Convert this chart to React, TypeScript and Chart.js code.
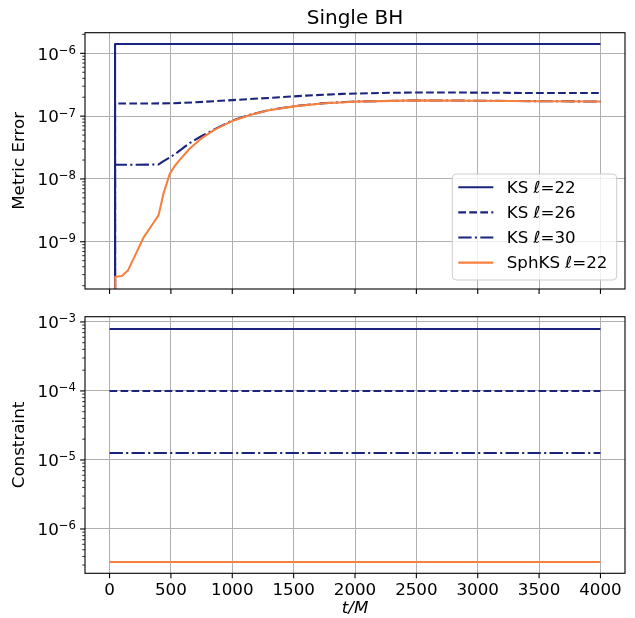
import React, { useEffect, useRef } from "react";
import { Chart, registerables } from "chart.js";

Chart.register(...registerables);

// ---------------- data ----------------
const chartTitle = "Single BH";
const seriesLabels = ["KS ℓ=22", "KS ℓ=26", "KS ℓ=30", "SphKS ℓ=22"];
const xTickValues = [0, 500, 1000, 1500, 2000, 2500, 3000, 3500, 4000];
const xAxisLabel = "t/M";
const topYLabel = "Metric Error";
const bottomYLabel = "Constraint";

// Metric error (top panel)
const tMetricKS22 = [45, 45, 4000];
const metricKS22 = [1e-12, 1.41e-6, 1.41e-6];

const tMetricKS26 = [45, 45, 300, 500, 700, 1000, 1300, 1600, 1900, 2200, 2500, 2800, 3200, 3600, 4000];
const metricKS26 = [1e-12, 1.59e-7, 1.59e-7, 1.6e-7, 1.66e-7, 1.8e-7, 1.95e-7, 2.12e-7, 2.26e-7, 2.34e-7, 2.38e-7, 2.38e-7, 2.35e-7, 2.33e-7, 2.33e-7];

const tMetricKS30 = [45, 45, 200, 400, 440, 500, 550, 650, 740, 850, 1000, 1150, 1300, 1500, 1750, 2000, 2500, 3000, 3500, 4000];
const metricKS30 = [1e-12, 1.68e-8, 1.68e-8, 1.7e-8, 1.92e-8, 2.25e-8, 2.62e-8, 3.7e-8, 4.7e-8, 6.1e-8, 8.5e-8, 1.06e-7, 1.25e-7, 1.44e-7, 1.61e-7, 1.71e-7, 1.78e-7, 1.76e-7, 1.73e-7, 1.71e-7];

const tMetricSph = [47, 47, 100, 150, 200, 275, 350, 400, 440, 490, 530, 575, 650, 740, 850, 1000, 1150, 1300, 1500, 1750, 2000, 2500, 3000, 3500, 4000];
const metricSph = [1e-12, 2.77e-10, 2.85e-10, 3.5e-10, 5.6e-10, 1.15e-9, 1.9e-9, 2.66e-9, 5.9e-9, 1.2e-8, 1.6e-8, 2.05e-8, 3.0e-8, 4.3e-8, 6.0e-8, 8.4e-8, 1.05e-7, 1.24e-7, 1.43e-7, 1.6e-7, 1.7e-7, 1.78e-7, 1.76e-7, 1.73e-7, 1.71e-7];

// Constraint (bottom panel)
const tConstraint = [0, 4000];
const constraintKS22 = [7.9e-4, 7.9e-4];
const constraintKS26 = [1.0e-4, 1.0e-4];
const constraintKS30 = [1.26e-5, 1.26e-5];
const constraintSph = [3.33e-7, 3.33e-7];

// ---------------- styles ----------------
const NAVY = "#1a237e";
const ORANGE = "#f8803f";
const LW = 2.08;
const seriesColors = [NAVY, NAVY, NAVY, ORANGE];
const seriesDashes: number[][] = [[], [7.7, 3.3], [13.3, 3.3, 2.1, 3.3], []];
const FONT = "DejaVu Sans";

function makeDatasets(ts: number[][], vs: number[][]) {
  return ts.map((t, i) => ({
    label: seriesLabels[i],
    data: t.map((x, j) => ({ x, y: vs[i][j] })),
    borderColor: seriesColors[i],
    backgroundColor: seriesColors[i],
    borderWidth: LW,
    borderDash: seriesDashes[i],
    borderCapStyle: "butt",
    borderJoinStyle: "round",
    pointRadius: 0,
    fill: false,
    tension: 0,
    clip: 0,
    order: 3 - i,
  }));
}

type Decor = {
  title?: string;
  yLabel: string;
  xLabel?: string;
  showXLabels: boolean;
  legend: boolean;
};

function makeDecorPlugin(d: Decor) {
  return {
    id: "decor",
    afterDraw(chart: any) {
      const ctx: CanvasRenderingContext2D = chart.ctx;
      const ca = chart.chartArea;
      const xs = chart.scales.x;
      const ys = chart.scales.y;
      ctx.save();
      // frame
      ctx.strokeStyle = "#000";
      ctx.lineWidth = 1.1;
      ctx.setLineDash([]);
      ctx.strokeRect(ca.left, ca.top, ca.right - ca.left, ca.bottom - ca.top);
      // x ticks
      ctx.lineWidth = 1.1;
      for (const v of xTickValues) {
        const px = xs.getPixelForValue(v);
        ctx.beginPath();
        ctx.moveTo(px, ca.bottom);
        ctx.lineTo(px, ca.bottom + 4.9);
        ctx.stroke();
        if (d.showXLabels) {
          ctx.fillStyle = "#000";
          ctx.font = `16.7px '${FONT}'`;
          ctx.textAlign = "center";
          ctx.textBaseline = "alphabetic";
          ctx.fillText(String(v), px, ca.bottom + 22.1);
        }
      }
      // y ticks (log)
      const lo = Math.floor(Math.log10(ys.min));
      const hi = Math.ceil(Math.log10(ys.max));
      for (let e = lo; e <= hi; e++) {
        for (let m = 1; m <= 9; m++) {
          const v = m * Math.pow(10, e);
          if (v < ys.min * 0.9999 || v > ys.max * 1.0001) continue;
          const py = ys.getPixelForValue(v);
          ctx.lineWidth = m === 1 ? 1.1 : 0.8;
          ctx.beginPath();
          ctx.moveTo(ca.left, py);
          ctx.lineTo(ca.left - (m === 1 ? 4.9 : 2.8), py);
          ctx.stroke();
          if (m === 1) {
            const right = ca.left - 9;
            const exp = "\u2212" + String(Math.abs(e));
            ctx.fillStyle = "#000";
            ctx.textAlign = "left";
            ctx.textBaseline = "alphabetic";
            ctx.font = `11.7px '${FONT}'`;
            const we = ctx.measureText(exp).width;
            ctx.font = `16.7px '${FONT}'`;
            const wb = ctx.measureText("10").width;
            const x0 = right - we - wb;
            ctx.fillText("10", x0, py + 6.2);
            ctx.font = `11.7px '${FONT}'`;
            ctx.fillText(exp, x0 + wb, py + 0.4);
          }
        }
      }
      // y label
      ctx.fillStyle = "#000";
      ctx.font = `16.7px '${FONT}'`;
      ctx.save();
      ctx.translate(20, (ca.top + ca.bottom) / 2);
      ctx.rotate(-Math.PI / 2);
      ctx.textAlign = "center";
      ctx.textBaseline = "middle";
      ctx.fillText(d.yLabel, 0, 0);
      ctx.restore();
      // x label
      if (d.xLabel) {
        ctx.font = `italic 16.7px '${FONT}'`;
        ctx.textAlign = "center";
        ctx.textBaseline = "alphabetic";
        ctx.fillText(d.xLabel, (ca.left + ca.right) / 2, ca.bottom + 39.5);
      }
      // title
      if (d.title) {
        ctx.font = `20px '${FONT}'`;
        ctx.textAlign = "center";
        ctx.textBaseline = "alphabetic";
        ctx.fillText(d.title, (ca.left + ca.right) / 2, 24);
      }
      // legend
      if (d.legend) {
        const bx = 452.3, by = 174, bw = 164.4, bh = 106, r = 4;
        ctx.beginPath();
        ctx.moveTo(bx + r, by);
        ctx.lineTo(bx + bw - r, by);
        ctx.quadraticCurveTo(bx + bw, by, bx + bw, by + r);
        ctx.lineTo(bx + bw, by + bh - r);
        ctx.quadraticCurveTo(bx + bw, by + bh, bx + bw - r, by + bh);
        ctx.lineTo(bx + r, by + bh);
        ctx.quadraticCurveTo(bx, by + bh, bx, by + bh - r);
        ctx.lineTo(bx, by + r);
        ctx.quadraticCurveTo(bx, by, bx + r, by);
        ctx.closePath();
        ctx.fillStyle = "rgba(255,255,255,0.8)";
        ctx.fill();
        ctx.strokeStyle = "#cccccc";
        ctx.lineWidth = 1;
        ctx.stroke();
        const rows = [187.3, 212.4, 237.5, 262.6];
        chart.data.datasets.forEach((ds: any, i: number) => {
          const yy = rows[i];
          ctx.strokeStyle = ds.borderColor;
          ctx.lineWidth = LW;
          ctx.lineCap = "butt";
          ctx.setLineDash(ds.borderDash || []);
          ctx.beginPath();
          ctx.moveTo(458.3, yy);
          ctx.lineTo(493.3, yy);
          ctx.stroke();
          ctx.setLineDash([]);
          ctx.fillStyle = "#000";
          ctx.font = `16.7px '${FONT}'`;
          ctx.textAlign = "left";
          ctx.textBaseline = "middle";
          ctx.fillText(ds.label, 506.7, yy + 1);
        });
      }
      ctx.restore();
    },
  };
}

function makeConfig(datasets: any[], yMin: number, yMax: number, padTop: number, xAxisHeight: number, decor: Decor) {
  return {
    type: "line",
    data: { datasets },
    options: {
      animation: false,
      responsive: false,
      devicePixelRatio: 1,
      layout: { padding: { left: 0, right: 10, top: padTop, bottom: 0 } },
      plugins: { legend: { display: false }, tooltip: { enabled: false }, title: { display: false } },
      elements: { point: { radius: 0 } },
      scales: {
        x: {
          type: "linear",
          position: "bottom",
          min: -200,
          max: 4200,
          afterBuildTicks: (s: any) => {
            s.ticks = xTickValues.map((v) => ({ value: v }));
          },
          afterFit: (s: any) => {
            s.height = xAxisHeight;
          },
          ticks: { display: false },
          grid: { color: "#b0b0b0", lineWidth: 1, drawTicks: false },
          border: { display: false },
        },
        y: {
          type: "logarithmic",
          position: "left",
          min: yMin,
          max: yMax,
          afterBuildTicks: (s: any) => {
            const out: any[] = [];
            const lo = Math.floor(Math.log10(yMin));
            const hi = Math.ceil(Math.log10(yMax));
            for (let e = lo; e <= hi; e++) {
              const v = Math.pow(10, e);
              if (v >= yMin && v <= yMax) out.push({ value: v, major: true });
            }
            s.ticks = out;
          },
          afterFit: (s: any) => {
            s.width = 85;
          },
          ticks: { display: false },
          grid: { color: "#b0b0b0", lineWidth: 1, drawTicks: false },
          border: { display: false },
        },
      },
    },
    plugins: [makeDecorPlugin(decor)],
  };
}

function Panel(props: { height: number; top: number; config: any }) {
  const ref = useRef<HTMLCanvasElement | null>(null);
  useEffect(() => {
    if (!ref.current) return;
    const chart = new Chart(ref.current, props.config);
    return () => chart.destroy();
  }, []);
  return (
    <canvas
      ref={ref}
      width={635}
      height={props.height}
      style={{ position: "absolute", left: 0, top: props.top, width: 635, height: props.height, display: "block" }}
    />
  );
}

export default function App() {
  useEffect(() => {
    document.body.style.margin = "0";
  }, []);
  const topDatasets = makeDatasets(
    [tMetricKS22, tMetricKS26, tMetricKS30, tMetricSph],
    [metricKS22, metricKS26, metricKS30, metricSph]
  );
  const bottomDatasets = makeDatasets(
    [tConstraint, tConstraint, tConstraint, tConstraint],
    [constraintKS22, constraintKS26, constraintKS30, constraintSph]
  );
  const topConfig = makeConfig(topDatasets, 1.77e-10, 2.13e-6, 32.7, 13, {
    title: chartTitle,
    yLabel: topYLabel,
    showXLabels: false,
    legend: true,
  });
  const bottomConfig = makeConfig(bottomDatasets, 2.28e-7, 1.19e-3, 14.7, 44.7, {
    yLabel: bottomYLabel,
    xLabel: xAxisLabel,
    showXLabels: true,
    legend: false,
  });
  return (
    <div style={{ position: "absolute", left: 0, top: 0, width: 635, height: 618, background: "#fff" }}>
      <Panel height={302} top={0} config={topConfig} />
      <Panel height={316} top={302} config={bottomConfig} />
    </div>
  );
}
